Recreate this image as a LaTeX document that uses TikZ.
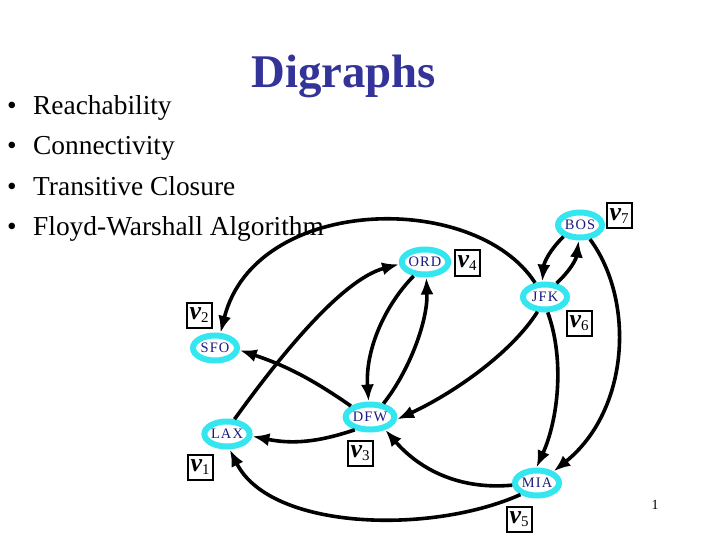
\documentclass[tikz,border=0pt]{standalone}
\usepackage{fontspec}
\setmainfont{Liberation Serif}
\newfontfamily\nodefont[LetterSpace=8]{Liberation Serif}
\usetikzlibrary{shapes.geometric,arrows.meta}
\definecolor{ring}{HTML}{33E6F0}
\definecolor{navy}{HTML}{1A1A80}
\definecolor{titleblue}{HTML}{333399}
\newcommand\vlabtext[1]{{\fontsize{26}{26}\selectfont\bfseries\itshape v}\raisebox{-3bp}{\fontsize{15}{15}\selectfont #1}}
\begin{document}
\begin{tikzpicture}[x=1bp,y=-1bp,
  city/.style={ellipse, draw=ring, line width=6bp, fill=white, minimum width=44bp, minimum height=25bp, inner sep=0pt, font=\nodefont\fontsize{14.5}{14.5}\selectfont, text=navy},
  vlab/.style={draw=black, line width=2bp, minimum width=25bp, minimum height=25bp, inner sep=0pt, fill=white},
  edge/.style={line width=3.6bp, -{Latex[length=17bp,width=13bp]}},
  bul/.style={font=\fontsize{27.5}{30}\selectfont, anchor=base west, inner sep=0pt},
  dot/.style={font=\fontsize{27.5}{30}\selectfont, anchor=base, inner sep=0pt}
]
\useasboundingbox (0,0) rectangle (720,540);
\fill[white] (0,0) rectangle (720,540);

% title
\node[anchor=base west, inner sep=0pt, text=titleblue, font=\fontsize{47}{50}\selectfont\bfseries] (title) at (251,88) {Digraphs};

% bullets
\node[dot] (d1) at (12,114.5) {•};
\node[bul] (b1) at (33,114.5) {Reachability};
\node[dot] (d2) at (12,155) {•};
\node[bul] (b2) at (33,155) {Connectivity};
\node[dot] (d3) at (12,195.5) {•};
\node[bul] (b3) at (33,195.5) {Transitive Closure};
\node[dot] (d4) at (12,236) {•};
\node[bul] (b4) at (33,236) {Floyd-Warshall Algorithm};

% cities
\node[city] (BOS) at (580,225) {BOS};
\node[city] (ORD) at (425,262) {ORD};
\node[city] (JFK) at (545,297) {JFK};
\node[city] (SFO) at (215,348) {SFO};
\node[city] (LAX) at (227,434) {LAX};
\node[city] (DFW) at (370,417) {DFW};
\node[city] (MIA) at (537,483) {MIA};

% vertex labels
\node[vlab] (v7) at (619,216) {\vlabtext{7}};
\node[vlab] (v4) at (467,263) {\vlabtext{4}};
\node[vlab] (v6) at (579,323) {\vlabtext{6}};
\node[vlab] (v2) at (199,315) {\vlabtext{2}};
\node[vlab] (v1) at (200,467) {\vlabtext{1}};
\node[vlab] (v3) at (360,453) {\vlabtext{3}};
\node[vlab] (v5) at (519,519) {\vlabtext{5}};

% page number
\node[inner sep=0pt, font=\fontsize{14}{14}\selectfont] (pg) at (655,505) {1};

% edges
\draw[edge] (JFK.125) .. controls (475,190) and (255,195) .. (SFO.70);
\draw[edge] (LAX.63) .. controls (275,363) and (340,280) .. (ORD.185);
\draw[edge] (DFW.150) to[bend right=8] (SFO.355);
\draw[edge] (DFW.220) to[bend left=15] (LAX.355);
\draw[edge] (ORD.231) .. controls (385,305) and (365,350) .. (DFW.95);
\draw[edge] (DFW.45) .. controls (410,370) and (428,320) .. (ORD.275);
\draw[edge] (JFK.243) .. controls (510,355) and (450,395) .. (DFW.355);
\draw[edge] (JFK.280) .. controls (565,360) and (558,420) .. (MIA.92);
\draw[edge] (BOS.305) .. controls (635,300) and (630,410) .. (MIA.35);
\draw[edge] (BOS.215) to[bend right=20] (JFK.100);
\draw[edge] (JFK.50) to[bend right=20] (BOS.265);
\draw[edge] (MIA.185) .. controls (460,490) and (420,470) .. (DFW.320);
\draw[edge] (MIA.215) .. controls (430,535) and (270,530) .. (LAX.280);
\end{tikzpicture}
\end{document}
